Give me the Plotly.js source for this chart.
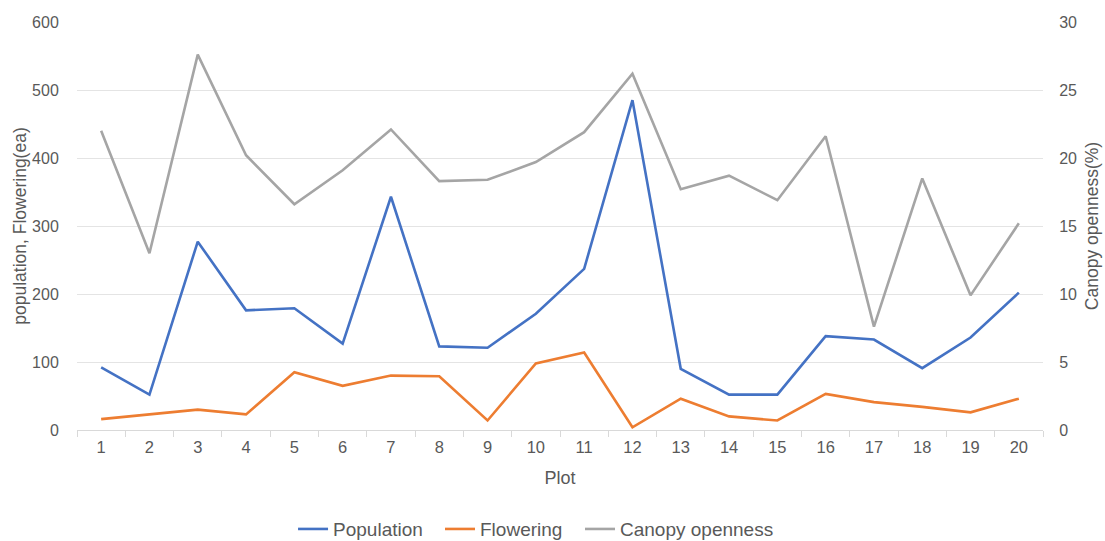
<!DOCTYPE html>
<html>
<head>
<meta charset="utf-8">
<script src="https://cdn.plot.ly/plotly-3.0.1.min.js"></script>
<style>html,body{margin:0;padding:0;background:#fff;}#chart{width:1105px;height:541px;}</style>
</head>
<body>
<div id="chart"></div>
<script>
const plots = [1,2,3,4,5,6,7,8,9,10,11,12,13,14,15,16,17,18,19,20];
const population = [92,52,277,176,179,127,343,123,121,171,237,485,90,52,52,138,133,91,136,202];
const flowering = [16,23,30,23,85,65,80,79,14,98,114,4,46,20,14,53,41,34,26,46];
const canopy = [22.0,13.0,27.6,20.2,16.6,19.1,22.1,18.3,18.4,19.7,21.9,26.2,17.7,18.7,16.9,21.6,7.6,18.5,9.9,15.2];
const seriesNames = ['Population','Flowering','Canopy openness'];
const colors = ['#4472C4','#ED7D31','#A5A5A5'];

const boundaries = [plots[0]-0.5].concat(plots.map(p=>p+0.5));
const fontFam = 'Liberation Sans, Arial, sans-serif';
const grey = '#595959';

const traces = [
  {x: plots, y: population, name: seriesNames[0], type:'scatter', mode:'lines', line:{color:colors[0], width:2.6}, xaxis:'x', yaxis:'y', legend:'legend'},
  {x: plots, y: flowering, name: seriesNames[1], type:'scatter', mode:'lines', line:{color:colors[1], width:2.6}, xaxis:'x', yaxis:'y', legend:'legend2'},
  {x: plots, y: canopy, name: seriesNames[2], type:'scatter', mode:'lines', line:{color:colors[2], width:2.6}, xaxis:'x', yaxis:'y2', legend:'legend3'}
];

function leg(xfrac) {
  return {orientation:'h', x:xfrac, xref:'container', xanchor:'left', y:0.022, yref:'container', yanchor:'middle',
    font:{size:19, color:grey}, itemwidth:30, bgcolor:'rgba(0,0,0,0)'};
}

const layout = {
  width:1105, height:541,
  margin:{l:77, r:62, t:22, b:111},
  paper_bgcolor:'#fff', plot_bgcolor:'#fff',
  font:{family:fontFam, color:grey, size:16},
  showlegend:true,
  legend: leg(0.2652),
  legend2: leg(0.3982),
  legend3: leg(0.5249),
  xaxis:{range:[0.5,20.5], tickvals:plots, ticktext:plots.map(String), automargin:false,
    ticks:'outside', ticklen:2, tickcolor:'rgba(0,0,0,0)',
    minor:{tickvals:boundaries, ticks:'outside', ticklen:6, tickcolor:'#D9D9D9', tickwidth:1, showgrid:false},
    showline:true, linecolor:'#D9D9D9', linewidth:1, showgrid:false, zeroline:false,
    tickfont:{size:16.5, color:grey}, title:{text:'Plot', font:{size:18, color:grey}, standoff:16}},
  yaxis:{range:[0,600], dtick:100, automargin:false, showgrid:true, gridcolor:'#E4E4E4', gridwidth:1, zeroline:false, showline:false,
    ticks:'outside', ticklen:14, tickcolor:'rgba(0,0,0,0)', tickfont:{size:16, color:grey},
    title:{text:'population, Flowering(ea)', font:{size:17.5, color:grey}, standoff:0}},
  yaxis2:{overlaying:'y', side:'right', range:[0,30], dtick:5, automargin:false, showgrid:false, zeroline:false, showline:false,
    ticks:'outside', ticklen:12, tickcolor:'rgba(0,0,0,0)', tickfont:{size:16, color:grey},
    title:{text:'Canopy openness(%)', font:{size:17.5, color:grey}, standoff:9}}
};

Plotly.newPlot('chart', traces, layout, {displayModeBar:false, staticPlot:true});
</script>
</body>
</html>
